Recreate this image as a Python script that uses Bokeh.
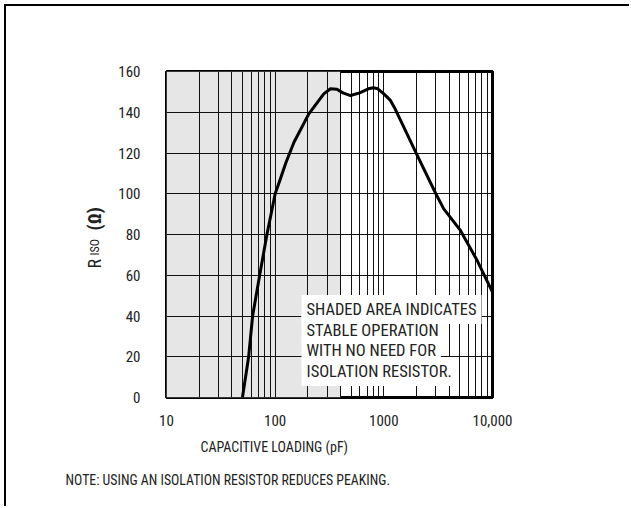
from bokeh.plotting import figure
from bokeh.models import FixedTicker, Label, Title
from bokeh.embed import file_html
from bokeh.resources import INLINE

# ---- data ----
cap_pf = [50, 57, 62, 72, 84, 100, 112, 125, 149, 204, 280, 323, 370, 420, 493,
          600, 720, 800, 880, 1000, 1150, 1270, 2030, 3010, 3560, 5070, 7230, 10000]
riso = [0, 20, 40, 60, 80, 100, 107.5, 115, 125.3, 139.2, 149, 151.5, 151.3, 149.5, 148.2,
        149.5, 151.5, 152, 151.5, 149, 145.8, 141.7, 118.8, 100, 92.6, 82, 67.2, 51.7]
stable_region = [10, 400]
x_ticks = [10, 100, 1000, 10000]
x_tick_labels = ["10", "100", "1000", "10,000"]
y_ticks = [0, 20, 40, 60, 80, 100, 120, 140, 160]
x_grid = [20, 30, 40, 50, 60, 70, 80, 90, 100, 200, 300, 400, 500, 600, 700, 800, 900, 1000,
          2000, 3000, 4000, 5000, 6000, 7000, 8000, 9000]
y_grid = [20, 40, 60, 80, 100, 120, 140]
box_lines = ["SHADED AREA INDICATES", "STABLE OPERATION", "WITH NO NEED FOR", "ISOLATION RESISTOR."]
x_title = "CAPACITIVE LOADING (pF)"
note = "NOTE: USING AN ISOLATION RESISTOR REDUCES PEAKING."
y_title_parts = ["R", "ISO", "(Ω)"]

FONT = "Roboto Condensed, Roboto, sans-serif"
TXT = "#222222"

# frame geometry in page pixels (for placing the box texts)
FL, FR, FT, FB = 166.0, 492.0, 71.0, 397.0
def to_data(px, py):
    x = 10 ** (1 + (px - FL) / (FR - FL) * 3)
    y = (FB - py) / (FB - FT) * 160
    return x, y

p = figure(width=625, height=502, x_axis_type="log", x_range=(10, 10000), y_range=(0, 160),
           output_backend="svg", toolbar_location=None,
           min_border_left=160, min_border_right=139, min_border_top=65, min_border_bottom=111)
p.styles = {"margin-left": "4px", "margin-top": "4px",
            "border-left": "2px solid #000", "border-top": "2px solid #000"}

# shaded stable region
p.quad(left=[stable_region[0]], right=[stable_region[1]], bottom=[y_ticks[0]], top=[y_ticks[-1]],
       fill_color="#e6e6e6", line_color=None, level="image")

p.xgrid.ticker = FixedTicker(ticks=x_grid)
p.ygrid.ticker = FixedTicker(ticks=y_grid)
for g in (p.xgrid, p.ygrid):
    g.grid_line_color = "#111111"
    g.grid_line_width = 1

p.outline_line_color = "black"
p.outline_line_width = 3
p.outline_line_alpha = 1

p.line(cap_pf, riso, line_color="black", line_width=3, line_join="round")

# axes
p.xaxis.ticker = FixedTicker(ticks=x_ticks)
p.xaxis.major_label_overrides = {t: l for t, l in zip(x_ticks, x_tick_labels)}
p.yaxis.ticker = FixedTicker(ticks=y_ticks)
for ax in (p.xaxis, p.yaxis):
    ax.axis_line_color = None
    ax.major_tick_line_color = None
    ax.minor_tick_line_color = None
    ax.major_tick_out = 0
    ax.major_tick_in = 0
    ax.major_label_text_font = FONT
    ax.major_label_text_font_size = "15px"
    ax.major_label_text_color = TXT
p.xaxis.major_label_standoff = 17
p.yaxis.major_label_standoff = 26

# annotation lines with white backgrounds (inside the frame)
for i, line in enumerate(box_lines):
    x, y = to_data(301, 309 + i * 20.7)
    p.add_layout(Label(x=x, y=y, text=line, text_font=FONT, text_font_size="16.5px",
                       text_color=TXT, text_baseline="alphabetic",
                       background_fill_color="white", padding=5))

# x axis title and note as titles below
p.add_layout(Title(text=x_title, align="left", offset=34, standoff=16, vertical_align="bottom",
                   text_font=FONT, text_font_size="14px", text_font_style="normal",
                   text_color=TXT), "below")
p.add_layout(Title(text=note, align="left", offset=-101, standoff=14, vertical_align="bottom",
                   text_font=FONT, text_font_size="13.8px", text_font_style="normal",
                   text_color=TXT), "below")

# y axis title: spacer, then zero-width stacked parts sharing one baseline
p.add_layout(Title(text=" ", text_font_size="1px", standoff=19, text_color="white"), "left")
p.add_layout(Title(text=y_title_parts[1], align="left", offset=142, standoff=-16, vertical_align="bottom",
                   text_font=FONT, text_font_size="12px", text_font_style="normal", text_color=TXT), "left")
p.add_layout(Title(text=y_title_parts[0], align="left", offset=129, standoff=-23, vertical_align="bottom",
                   text_font=FONT, text_font_size="18px", text_font_style="normal", text_color=TXT), "left")
p.add_layout(Title(text=y_title_parts[2], align="left", offset=167, standoff=-24, vertical_align="bottom",
                   text_font=FONT, text_font_size="19px", text_font_style="bold", text_color=TXT), "left")

open("out.html", "w").write(file_html(p, INLINE))
